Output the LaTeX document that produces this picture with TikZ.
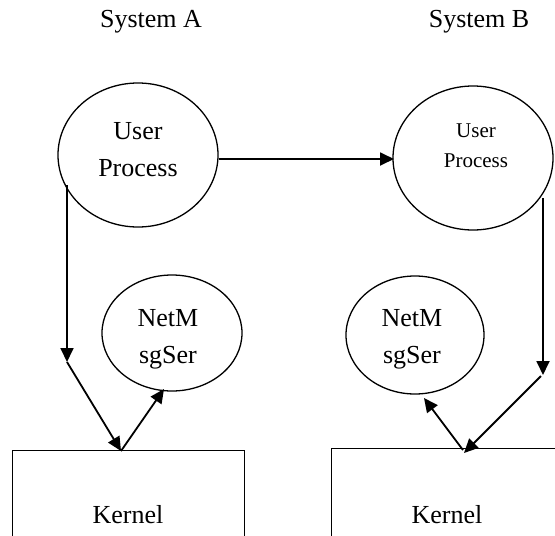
\documentclass[tikz,border=0pt]{standalone}
\usepackage{fontspec}
\setmainfont{Liberation Serif}
\usetikzlibrary{arrows.meta,shapes.geometric}
\begin{document}
\begin{tikzpicture}[x=1pt,y=-1pt,
  ell/.style={draw,line width=1.3pt,ellipse,inner sep=0pt},
  box/.style={draw,line width=1.3pt,inner sep=0pt},
  conn/.style={line width=1.8pt,-{Triangle[length=14pt,width=13pt]}},
  big/.style={font=\fontsize{26}{37}\selectfont,align=center,inner sep=0pt},
  small/.style={font=\fontsize{21}{30}\selectfont,align=center,inner sep=0pt}]
\useasboundingbox (0,0) rectangle (555,536);
\clip (0,0) rectangle (555,536);
% titles
\node[big] (ta) at (151,22) {System A};
\node[big] (tb) at (479,22) {System B};
% user processes
\node[ell,minimum width=160pt,minimum height=144pt] (upa) at (138,155) {};
\node[big] (upat) at (138,150) {User\\Process};
\node[ell,minimum width=160pt,minimum height=144pt] (upb) at (473,158) {};
\node[small] (upbt) at (476,146) {User\\Process};
% net msg servers
\node[ell,minimum width=140pt,minimum height=116pt] (nma) at (172,333) {};
\node[big] (nmat) at (168,339) {NetM\\sgSer};
\node[ell,minimum width=138pt,minimum height=118pt] (nmb) at (415,335) {};
\node[big] (nmbt) at (412,339) {NetM\\sgSer};
% kernels
\node[box,minimum width=232pt,minimum height=110pt,anchor=north west] (ka) at (12,450) {};
\node[big] (kat) at (128,515) {Kernel};
\node[box,minimum width=239pt,minimum height=112pt,anchor=north west] (kb) at (331,448) {};
\node[big] (kbt) at (447,515) {Kernel};
% coordinates
\coordinate (a1) at (67,185);
\coordinate (a2) at (67,362);
\coordinate (a3) at (121,451);
\coordinate (a4) at (164,389);
\coordinate (h1) at (219,159);
\coordinate (h2) at (394,159);
\coordinate (b1) at (543,198);
\coordinate (b2) at (543,375);
\coordinate (b2s) at (541,376);
\coordinate (b3) at (464,453);
\coordinate (b3s) at (463,450);
\coordinate (b4) at (424,398);
% connectors
\draw[conn] (a1) -- (a2);
\draw[conn] (a2) -- (a3);
\draw[conn] (a3) -- (a4);
\draw[conn] (h1) -- (h2);
\draw[conn] (b1) -- (b2);
\draw[conn] (b2s) -- (b3);
\draw[conn] (b3s) -- (b4);
\end{tikzpicture}
\end{document}
